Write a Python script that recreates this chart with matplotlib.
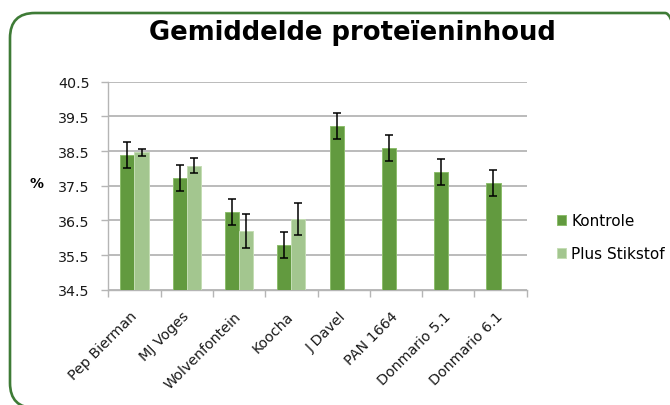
import matplotlib
matplotlib.use("Agg")
import matplotlib.pyplot as plt
from matplotlib.patches import FancyBboxPatch
from matplotlib.transforms import ScaledTranslation
import numpy as np

categories = ["Pep Bierman", "MJ Voges", "Wolvenfontein", "Koocha", "J Davel",
              "PAN 1664", "Donmario 5.1", "Donmario 6.1"]
kontrole = [38.39, 37.72, 36.74, 35.79, 39.22, 38.59, 37.89, 37.58]
kontrole_err = [0.38, 0.38, 0.38, 0.38, 0.38, 0.38, 0.38, 0.38]
plus_categories = ["Pep Bierman", "MJ Voges", "Wolvenfontein", "Koocha"]
plus_stikstof = [38.46, 38.08, 36.19, 36.54]
plus_err = [0.10, 0.21, 0.49, 0.45]
yticks = [34.5, 35.5, 36.5, 37.5, 38.5, 39.5, 40.5]

plt.rcParams['font.family'] = ['DejaVu Sans']
W, H = 670, 406
fig = plt.figure(figsize=(W / 100, H / 100), dpi=100)

# axes in pixel coords
x0, x1 = 108.3, 526.7
ytop, ybot = 82.7, 290.7
ax = fig.add_axes([x0 / W, (H - ybot) / H, (x1 - x0) / W, (ybot - ytop) / H])

c_k = "#629A3F"
c_p = "#A3C68F"
bw = 0.27
x = np.arange(len(categories))
xp = np.array([categories.index(c) for c in plus_categories])

ax.bar(x - bw / 2, [v - 34.5 for v in kontrole], bw, bottom=34.5, color=c_k,
       edgecolor="#8cbd6c", linewidth=0.7, zorder=3, label="Kontrole")
ax.bar(xp + bw / 2, [v - 34.5 for v in plus_stikstof], bw, bottom=34.5, color=c_p,
       edgecolor="#c4ddb4", linewidth=0.7, zorder=3, label="Plus Stikstof")
ax.errorbar(x - bw / 2, kontrole, yerr=kontrole_err, fmt="none", ecolor="black",
            elinewidth=1.1, capsize=3.1, capthick=1.1, zorder=4)
ax.errorbar(xp + bw / 2, plus_stikstof, yerr=plus_err, fmt="none", ecolor="black",
            elinewidth=1.1, capsize=3.1, capthick=1.1, zorder=4)

ax.set_xlim(-0.5, len(categories) - 0.5)
ax.set_ylim(34.5, 40.5)
ax.set_yticks(yticks)
ax.set_yticklabels([f"{v:.1f}" for v in yticks], fontsize=10.3, color="#1a1a1a")
ax.yaxis.grid(True, color="#b5b5b5", linewidth=1.3, zorder=0)
ax.set_axisbelow(True)

ax.set_xticks(x)
ax.set_xticklabels(categories, rotation=45, ha="right", va="center",
                   rotation_mode="anchor", fontsize=10.3, color="#1a1a1a")
offset = ScaledTranslation(3 / 100, 0, fig.dpi_scale_trans)
for lab in ax.get_xticklabels():
    lab.set_transform(lab.get_transform() + offset)
ax.set_xticks(np.arange(len(categories) + 1) - 0.5, minor=True)
ax.tick_params(axis="x", which="major", length=0, pad=17.3)
ax.tick_params(axis="x", which="minor", length=5, color="#b5b5b5", width=1)
ax.tick_params(axis="y", length=5, color="#b5b5b5", width=1, pad=8.5)

for s in ["top", "right"]:
    ax.spines[s].set_visible(False)
for s in ["left", "bottom"]:
    ax.spines[s].set_color("#b5b5b5")
    ax.spines[s].set_linewidth(1)

fig.text(37 / W, (H - 184) / H, "%", fontsize=10, fontweight="bold",
         ha="center", va="center")
fig.text(352 / W, (H - 40) / H, "Gemiddelde proteïeninhoud", fontsize=18.6,
         fontweight="bold", ha="center", va="baseline")

ax.legend(loc="upper left", bbox_to_anchor=(557 / W, (H - 214) / H),
          bbox_transform=fig.transFigure, frameon=False, fontsize=11,
          handlelength=0.62, handleheight=0.62, handletextpad=0.3,
          labelspacing=1.2, borderaxespad=0, borderpad=0)

border = FancyBboxPatch((10, -3), 680, 395, boxstyle="round,pad=0,rounding_size=25",
                        transform=None, facecolor="none", edgecolor="#3E7B36",
                        linewidth=1.9)
fig.patches.append(border)

fig.savefig("out.png", dpi=100)
